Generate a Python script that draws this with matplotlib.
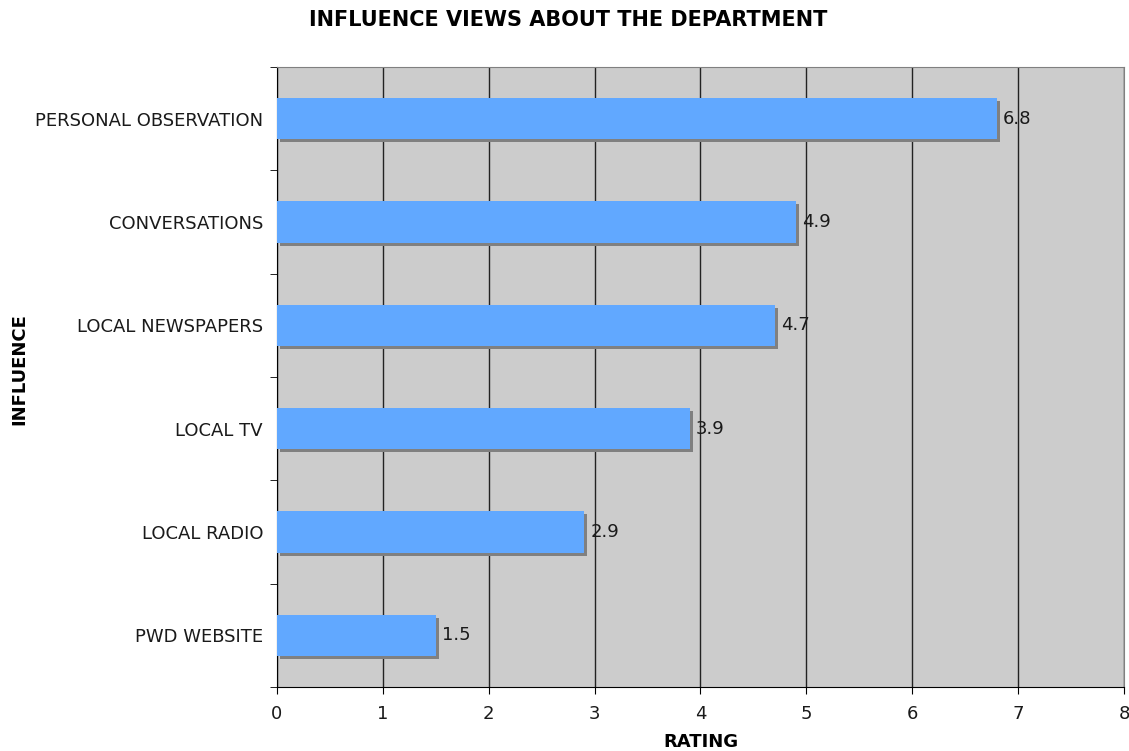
import matplotlib.pyplot as plt
import matplotlib.patheffects as pe
import numpy as np

categories = ['PERSONAL OBSERVATION', 'CONVERSATIONS', 'LOCAL NEWSPAPERS',
              'LOCAL TV', 'LOCAL RADIO', 'PWD WEBSITE']
ratings = [6.8, 4.9, 4.7, 3.9, 2.9, 1.5]
xticks = [0, 1, 2, 3, 4, 5, 6, 7, 8]

plt.rcParams['font.family'] = ['DejaVu Sans']

fig = plt.figure(figsize=(11.29, 7.51), dpi=100)
ax = fig.add_axes([0.2453, 0.0852, 0.9956 - 0.2453, 0.9108 - 0.0852])
ax.set_facecolor('#CCCCCC')

y = np.arange(len(categories))[::-1]
bars = ax.barh(y, ratings, height=0.4, color='#61A8FF', zorder=3,
               path_effects=[pe.SimplePatchShadow(offset=(2.2, -2.2),
                                                  shadow_rgbFace='#808080', alpha=1),
                             pe.Normal()])

# value labels
for yi, v in zip(y, ratings):
    ax.annotate(f'{v}', xy=(v, yi), xytext=(4.5, 0), textcoords='offset points',
                va='center', ha='left', fontsize=13, color='#1a1a1a', zorder=4)

ax.set_xlim(0, 8)
ax.set_ylim(-0.5, len(categories) - 0.5)
ax.set_xticks(xticks)
ax.set_xticklabels([str(t) for t in xticks], fontsize=13, color='#1a1a1a')
ax.set_yticks(y)
ax.set_yticklabels(categories, fontsize=13, color='#1a1a1a')
ax.set_yticks(np.arange(-0.5, len(categories), 1.0), minor=True)
ax.tick_params(axis='y', which='major', length=0, pad=10)
ax.tick_params(axis='y', which='minor', length=5, direction='out')
ax.tick_params(axis='x', length=5, direction='out', pad=8)

ax.xaxis.grid(True, color='#222222', linewidth=1)
ax.set_axisbelow(True)
for s in ['top', 'right']:
    ax.spines[s].set_color('#808080')
for s in ['left', 'bottom']:
    ax.spines[s].set_color('black')

ax.set_xlabel('RATING', fontsize=13, fontweight='bold', va='center')
ax.xaxis.set_label_coords(0.5, -0.0887)
ax.set_ylabel('INFLUENCE', fontsize=13, fontweight='bold', va='center')
ax.yaxis.set_label_coords(-0.3046, 0.513)
fig.text(0.503, 0.974, 'INFLUENCE VIEWS ABOUT THE DEPARTMENT', ha='center',
         va='center', fontsize=15, fontweight='bold')

fig.savefig('out.png', dpi=100)
